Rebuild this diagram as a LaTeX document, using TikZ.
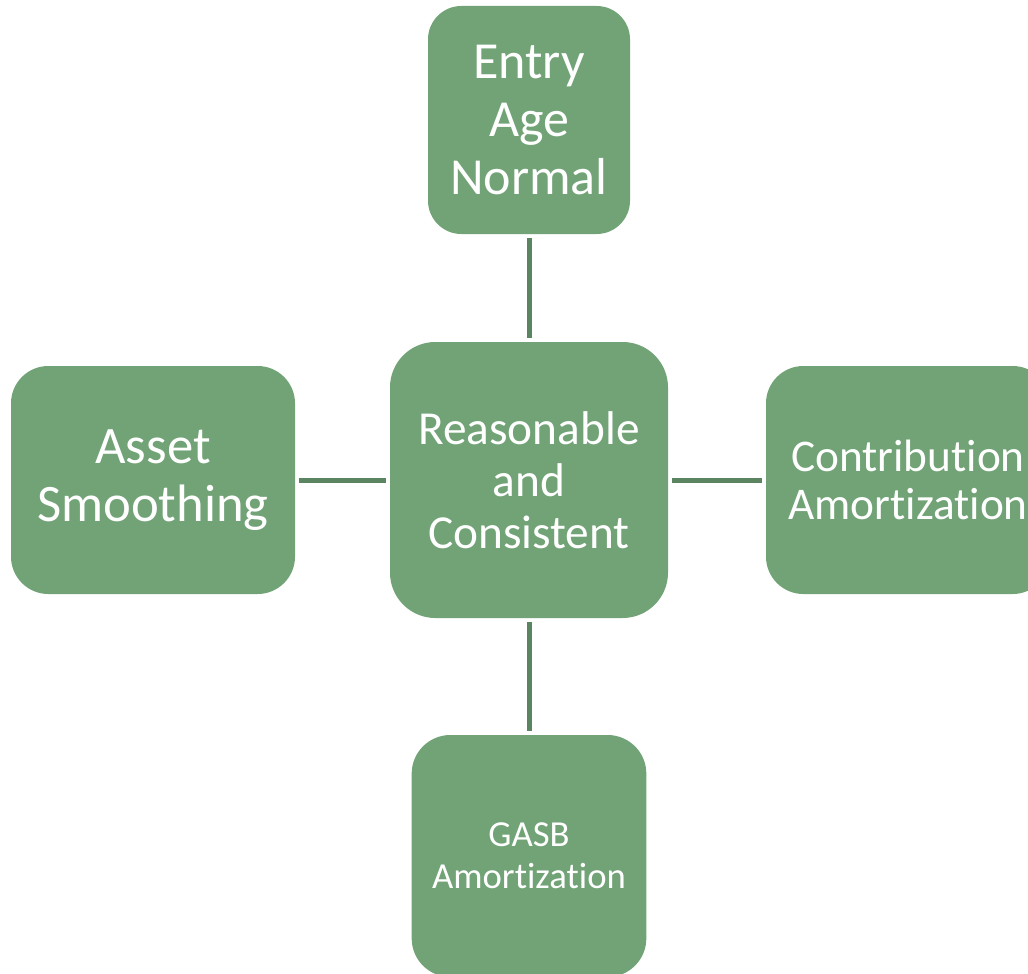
\documentclass[tikz,border=0pt]{standalone}
\usepackage{fontspec}
\setmainfont{Carlito}[RawFeature={-liga;-clig;-dlig}]
\definecolor{boxgreen}{HTML}{71A376}
\definecolor{linkgreen}{HTML}{5A8560}
\begin{document}
\begin{tikzpicture}[x=0.75pt, y=-0.75pt,
		box/.style={fill=boxgreen, text=white, align=center, inner sep=0pt},
		link/.style={draw=linkgreen, line width=3.75pt, shorten <=3pt, shorten >=3pt}]
		\useasboundingbox (0,0) rectangle (1028,974);
		\clip (0,0) rectangle (1028,974);
		\node[box, minimum width=208.5pt, minimum height=207pt, rounded corners=34pt,
			font=\fontsize{35.5}{39}\selectfont] (core) at (529,480) {Reasonable\\and\\Consistent};
		\node[box, minimum width=151.5pt, minimum height=171pt, rounded corners=25pt,
			font=\fontsize{39}{43.5}\selectfont] (entry) at (529,120) {Entry\\Age\\Normal};
		\node[box, minimum width=213pt, minimum height=171pt, rounded corners=28pt,
			font=\fontsize{39.5}{44}\selectfont] (asset) at (153,480) {Asset\\Smoothing};
		\node[box, minimum width=213pt, minimum height=171pt, rounded corners=28pt,
			font=\fontsize{34}{36}\selectfont] (contrib) at (908,480) {Contribution\\Amortization};
		\node[box, minimum width=176pt, minimum height=181.5pt, rounded corners=29pt,
			font=\fontsize{27.5}{31.5}\selectfont] (gasb) at (529,856) {GASB\\Amortization};
		\draw[link] (entry.south) -- (core.north);
		\draw[link] (core.south) -- (gasb.north);
		\draw[link] (asset.east) -- (core.west);
		\draw[link] (core.east) -- (contrib.west);
	\end{tikzpicture}
\end{document}
